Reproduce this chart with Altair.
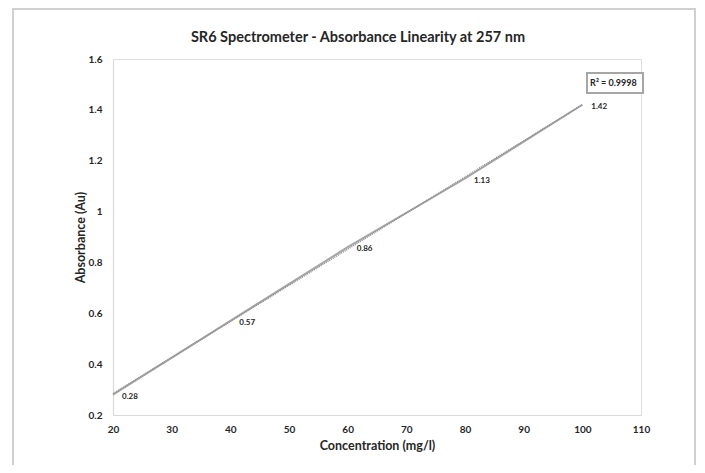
import altair as alt
import pandas as pd

concentration = [20, 40, 60, 80, 100]
absorbance = [0.28, 0.57, 0.86, 1.13, 1.42]
labels = ["0.28", "0.57", "0.86", "1.13", "1.42"]
x_ticks = [20, 30, 40, 50, 60, 70, 80, 90, 100, 110]
y_ticks = [0.2, 0.4, 0.6, 0.8, 1.0, 1.2, 1.4, 1.6]
r2_text = "R² = 0.9998"
title_text = "SR6 Spectrometer - Absorbance Linearity at 257 nm"

FONT = "Lato"
df = pd.DataFrame({"c": concentration, "a": absorbance, "lab": labels})

xs = alt.Scale(domain=[20, 110], nice=False, zero=False)
ys = alt.Scale(domain=[0.2, 1.6], nice=False, zero=False)

xax = alt.Axis(values=x_ticks, title="Concentration (mg/l)", grid=False, ticks=False,
               labelFlush=False,
               domainColor="#d9d9d9", domainWidth=1.2, labelFont=FONT, labelFontWeight="bold",
               labelFontSize=10, labelColor="#262626", labelPadding=9,
               titleFont=FONT, titleFontSize=12.5, titleFontWeight="bold", titleColor="#262626",
               titlePadding=5)
yax = alt.Axis(values=y_ticks, format="~g", title="Absorbance (Au)", grid=False, ticks=False,
               labelFlush=False,
               domainColor="#d9d9d9", domainWidth=1.2, labelFont=FONT, labelFontWeight="bold",
               labelFontSize=10, labelColor="#262626", labelPadding=11,
               titleFont=FONT, titleFontSize=12.5, titleFontWeight="bold", titleColor="#262626",
               titlePadding=1)

base = alt.Chart(df)

line = base.mark_line(color="#a6a6a6", strokeWidth=2).encode(
    x=alt.X("c:Q", scale=xs, axis=xax),
    y=alt.Y("a:Q", scale=ys, axis=yax),
)

trend = base.transform_regression("c", "a").mark_line(
    color="#8c8c8c", strokeWidth=1.5, strokeDash=[1, 1]
).encode(x=alt.X("c:Q", scale=xs), y=alt.Y("a:Q", scale=ys))

text = base.mark_text(align="left", baseline="middle", dx=9, dy=2, font=FONT,
                      fontSize=8, fontWeight="bold", color="#262626").encode(
    x=alt.X("c:Q", scale=xs), y=alt.Y("a:Q", scale=ys), text="lab:N")

ann = pd.DataFrame({"x": [105.3], "y": [1.505], "t": [r2_text], "title": [title_text]})
r2box = alt.Chart(ann).mark_rect(fill="white", stroke="#a6a6a6", strokeWidth=2).encode(
    x=alt.value(474), x2=alt.value(530), y=alt.value(14), y2=alt.value(34))
r2txt = alt.Chart(ann).mark_text(font=FONT, fontSize=9, fontWeight="bold",
                                  color="#262626", baseline="middle").encode(
    x=alt.X("x:Q", scale=xs), y=alt.Y("y:Q", scale=ys), text="t:N")

title = alt.Chart(ann).mark_text(font=FONT, fontSize=14.5, fontWeight="bold",
                                 color="#262626", baseline="middle").encode(
    x=alt.value(245), y=alt.value(-21), text="title:N")

border = alt.Chart(ann).mark_rect(fill=None, stroke="#d0d0d0", strokeWidth=2).encode(
    x=alt.value(-100), x2=alt.value(582), y=alt.value(-50), y2=alt.value(420))

chart = alt.layer(border, line, trend, text, r2box, r2txt, title).properties(
    width=528, height=356,
    autosize=alt.AutoSizeParams(type="none"),
    padding={"left": 105, "top": 51, "right": 56, "bottom": 50},
).configure_view(stroke=None).configure(background="white")

chart.save("out.html", embed_options={"renderer": "svg", "actions": False})
